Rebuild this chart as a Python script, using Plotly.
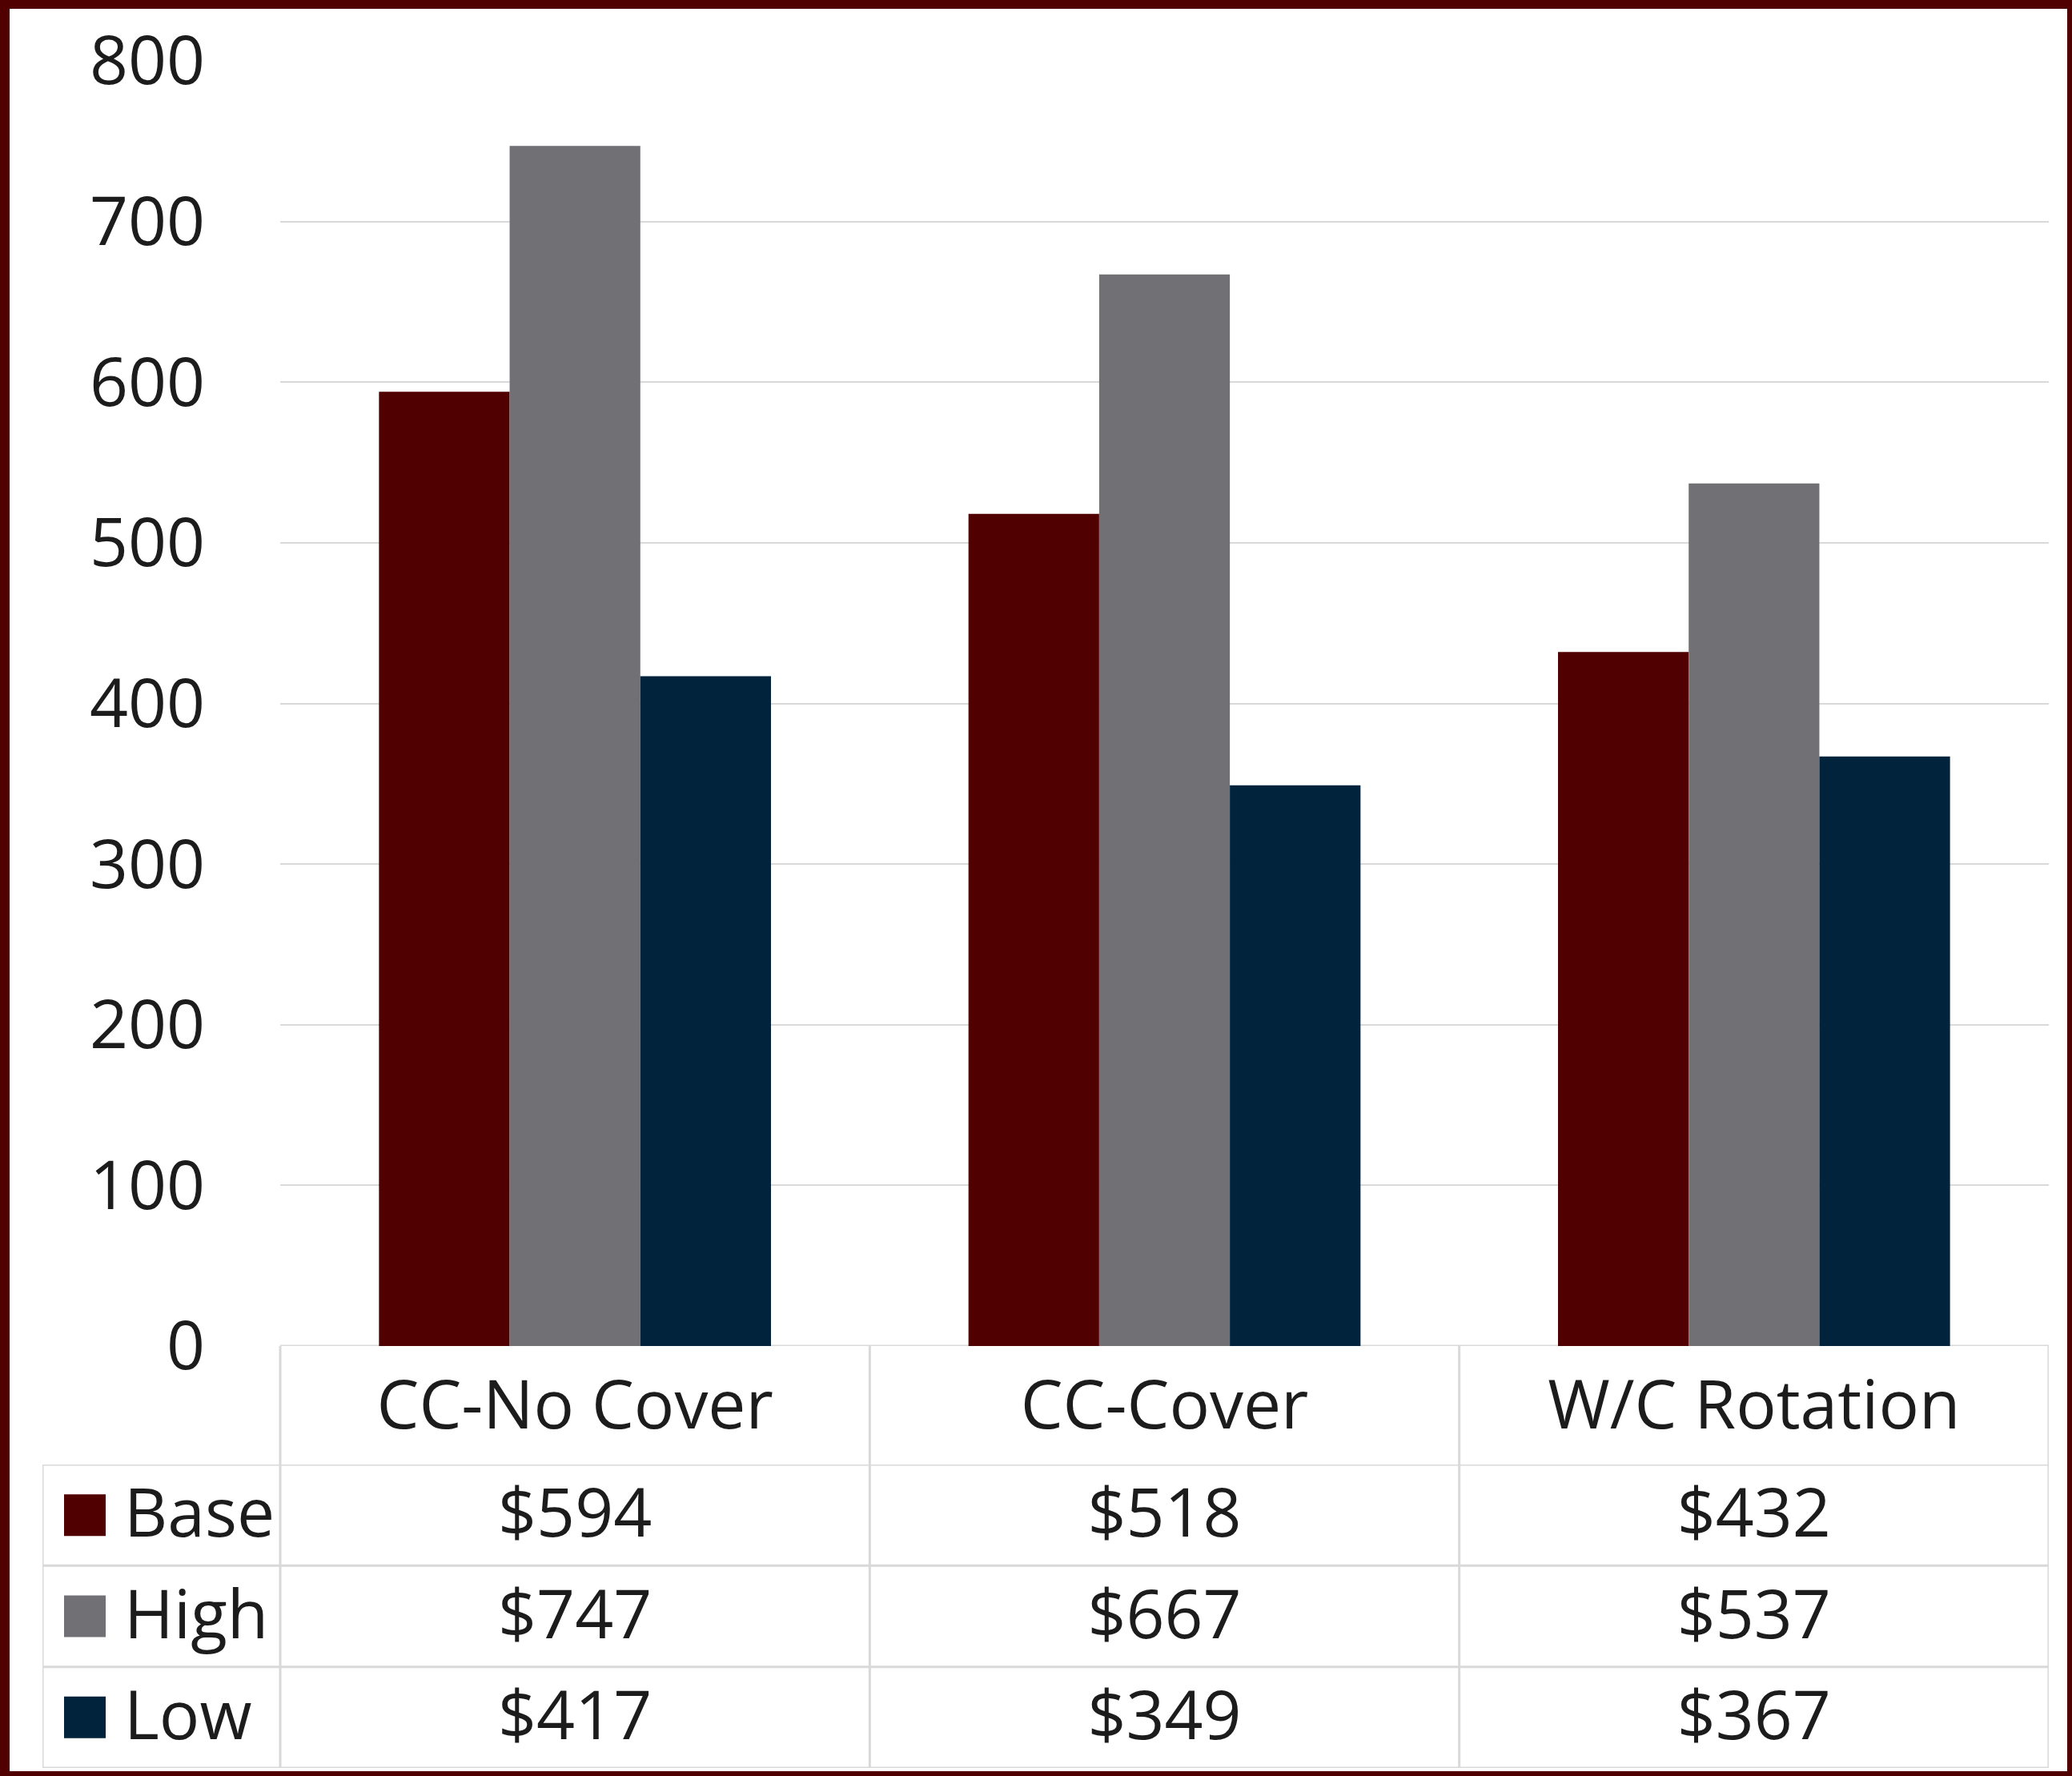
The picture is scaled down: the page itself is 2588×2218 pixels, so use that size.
import plotly.graph_objects as go

# ---------------- data ----------------
categories = ["CC-No Cover", "CC-Cover", "W/C Rotation"]
series_names = ["Base", "High", "Low"]
base_values = [594, 518, 432]
high_values = [747, 667, 537]
low_values = [417, 349, 367]
series_values = [base_values, high_values, low_values]
series_colors = ["#500000", "#717075", "#01233C"]
y_tick_values = [0, 100, 200, 300, 400, 500, 600, 700, 800]

# ---------------- layout constants (pixels) ----------------
W, H = 2588, 2218
plot_left, plot_right = 350, 2559
plot_top, plot_bottom = 76, 1681
table_left = 53
rows_top, table_bottom = 1829, 2208
FONT = "Open Sans"
FS = 84
TXT = "#1c1c1c"
GRID = "#d9d9d9"
MAROON = "#500000"
TEXT_NUDGE = 0.05  # fraction of a row, to centre glyphs like the original


def px_x(p):
    return p / W


def px_y(p):
    return 1 - p / H


n = len(categories)
m = len(series_names)
unit = (plot_right - plot_left) / n
legend_units = (plot_left - table_left) / unit
x2_min = -0.5 - legend_units
x2_max = n - 0.5
row_pos = {name: m - 1 - k for k, name in enumerate(series_names)}

fig = go.Figure()

# bars
for name, vals, col in zip(series_names, series_values, series_colors):
    fig.add_trace(go.Bar(x=categories, y=vals, name=name, marker=dict(color=col, line=dict(width=0)),
                         xaxis="x", yaxis="y", hoverinfo="skip"))

# table values
tx, ty, tt = [], [], []
for name, vals in zip(series_names, series_values):
    for i, v in enumerate(vals):
        tx.append(i)
        ty.append(row_pos[name] - TEXT_NUDGE)
        tt.append(f"${v}")
fig.add_trace(go.Scatter(x=tx, y=ty, text=tt, mode="text", xaxis="x2", yaxis="y2",
                         textfont=dict(family=FONT, size=FS, color=TXT), hoverinfo="skip",
                         cliponaxis=False))

# legend column: squares + labels
sq_x = x2_min + (106 - table_left) / unit
lab_x = x2_min + (155 - table_left) / unit
fig.add_trace(go.Scatter(x=[sq_x] * m, y=[row_pos[s] for s in series_names], mode="markers",
                         marker=dict(symbol="square", size=52, color=series_colors, line=dict(width=0)),
                         xaxis="x2", yaxis="y2", hoverinfo="skip", cliponaxis=False))
fig.add_trace(go.Scatter(x=[lab_x] * m, y=[row_pos[s] - TEXT_NUDGE for s in series_names], text=series_names,
                         mode="text", textposition="middle right",
                         textfont=dict(family=FONT, size=FS, color=TXT),
                         xaxis="x2", yaxis="y2", hoverinfo="skip", cliponaxis=False))

shapes = []
# horizontal table borders
for k in range(m + 1):
    yb = k - 0.5
    shapes.append(dict(type="line", xref="x2", yref="y2", x0=x2_min, x1=x2_max, y0=yb, y1=yb,
                       line=dict(color=GRID, width=3), layer="above"))
# top border of header row (axis baseline)
shapes.append(dict(type="line", xref="x2", yref="y", x0=-0.5, x1=x2_max, y0=0, y1=0,
                   line=dict(color=GRID, width=3), layer="below"))
# vertical borders spanning header + rows
for i in range(n + 1):
    xb = i - 0.5
    shapes.append(dict(type="line", xref="x2", yref="paper", x0=xb, x1=xb,
                       y0=px_y(table_bottom), y1=px_y(plot_bottom),
                       line=dict(color=GRID, width=3), layer="above"))
# left border of legend column
shapes.append(dict(type="line", xref="x2", yref="paper", x0=x2_min, x1=x2_min,
                   y0=px_y(table_bottom), y1=px_y(rows_top), line=dict(color=GRID, width=3), layer="above"))
# outer maroon frame
frame = [(0, 0, W, 11), (0, 0, 12, H), (W - 6, 0, W, H), (0, H - 6, W, H)]
for (a, b, c, d) in frame:
    shapes.append(dict(type="rect", xref="paper", yref="paper", x0=px_x(a), x1=px_x(c),
                       y0=px_y(d), y1=px_y(b), fillcolor=MAROON, line=dict(width=0), layer="above"))

fig.update_layout(
    width=W, height=H, autosize=False,
    margin=dict(l=0, r=0, t=0, b=0, pad=0),
    paper_bgcolor="white", plot_bgcolor="white",
    showlegend=False,
    barmode="group", bargap=0.335, bargroupgap=0,
    font=dict(family=FONT, size=FS, color=TXT),
    xaxis=dict(domain=[px_x(plot_left), px_x(plot_right)], anchor="y", type="category",
               categoryorder="array", categoryarray=categories,
               showgrid=False, zeroline=False, showline=False, ticks="",
               tickfont=dict(family=FONT, size=FS, color=TXT), ticklabelstandoff=18,
               automargin=False, fixedrange=True),
    yaxis=dict(domain=[px_y(plot_bottom), px_y(plot_top)], anchor="x", range=[0, 800],
               tickvals=y_tick_values, showgrid=True, gridcolor=GRID, gridwidth=2,
               zeroline=False, showline=False, ticks="",
               tickfont=dict(family=FONT, size=FS, color=TXT), ticklabelstandoff=93,
               automargin=False, fixedrange=True),
    xaxis2=dict(domain=[px_x(table_left), px_x(plot_right)], anchor="y2", range=[x2_min, x2_max],
                visible=False, fixedrange=True),
    yaxis2=dict(domain=[px_y(table_bottom), px_y(rows_top)], anchor="x2", type="linear",
                range=[-0.5, m - 0.5], visible=False, fixedrange=True),
    shapes=shapes,
)

fig.write_html("out.html")
